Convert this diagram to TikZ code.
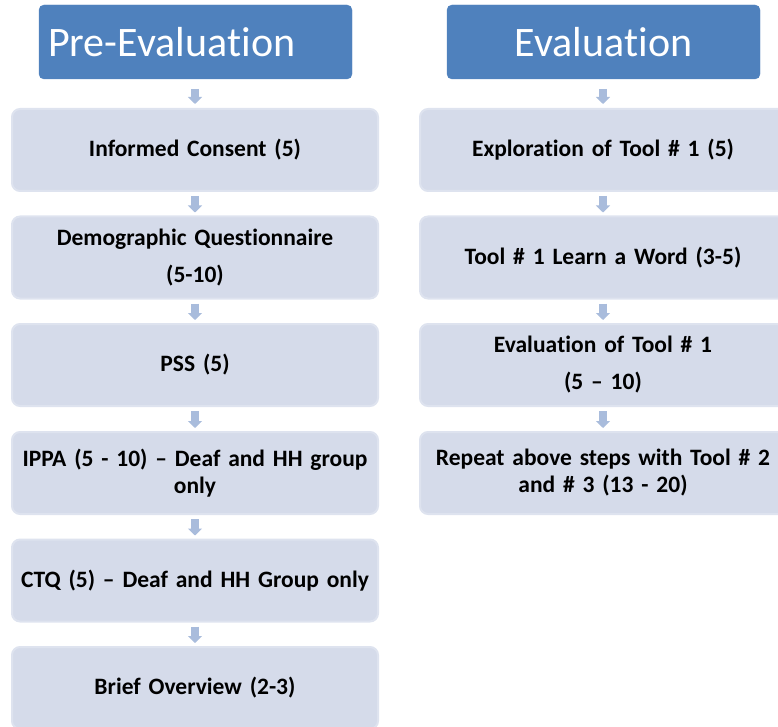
\documentclass[tikz,border=0pt]{standalone}
\usepackage{fontspec}
\setmainfont{Carlito}[Ligatures={NoCommon}, Contextuals={NoAlternate}]
\usetikzlibrary{arrows.meta}
\definecolor{hdr}{HTML}{4F81BD}
\definecolor{boxfill}{HTML}{D5DBEA}
\definecolor{boxline}{HTML}{DEE3EF}
\definecolor{arr}{HTML}{A9BCDC}
\newcommand\myboxfont{\fontsize{23.5}{27}\selectfont\bfseries\spaceskip 0.2em plus 0.05em\relax}
\begin{document}
\begin{tikzpicture}[x=1pt,y=-1pt,
  header/.style={fill=hdr, draw=hdr, rounded corners=5pt, minimum width=313pt, minimum height=74pt,
    text=white, font=\fontsize{42}{48}\selectfont, outer sep=0pt},
  stepbox/.style={fill=boxfill, draw=boxline, line width=2pt, rounded corners=8pt,
    minimum width=366pt, minimum height=82pt, text width=356pt, align=center,
    font=\myboxfont, outer sep=0pt},
  flow/.style={draw=arr, line width=8pt, -{Triangle[width=14pt,length=7pt]}},
]
\clip (0,0) rectangle (778,727);
\useasboundingbox (0,0) rectangle (778,727);

% headers
\node[header, text width=295pt, align=left, inner sep=9pt] (h1) at (195.5,42) {Pre-Evalua\kern0pt tion};
\node[header, align=center] (h2) at (603.5,42) {Evalua\kern0pt tion};

% left column
\node[stepbox] (l1) at (195,150) {Informed Consent (5)};
\node[stepbox] (l2) at (195,257.5) {Demographic Questionnaire\\[10pt](5-10)};
\node[stepbox] (l3) at (195,365) {PSS (5)};
\node[stepbox] (l4) at (195,473) {IPPA (5 - 10) – Deaf and HH group\\only};
\node[stepbox] (l5) at (195,580.5) {CTQ (5) – Deaf and HH Group only};
\node[stepbox] (l6) at (195,688) {Brief Overview (2-3)};

% right column
\node[stepbox] (r1) at (603,150) {Explora\kern0pt tion of Tool \# 1 (5)};
\node[stepbox] (r2) at (603,257.5) {Tool \# 1 Learn a Word (3-5)};
\node[stepbox] (r3) at (603,365) {Evalua\kern0pt tion of Tool \# 1\\[10pt](5 – 10)};
\node[stepbox] (r4) at (603,473) {Repeat above steps with Tool \# 2\\and \# 3 (13 - 20)};

% arrows
\draw[flow, shorten <=10pt, shorten >=5pt] ([xshift=-0.5pt]h1.south) -- (l1.north);
\draw[flow, shorten <=5pt, shorten >=4pt] (l1.south) -- (l2.north);
\draw[flow, shorten <=5pt, shorten >=4pt] (l2.south) -- (l3.north);
\draw[flow, shorten <=5pt, shorten >=4pt] (l3.south) -- (l4.north);
\draw[flow, shorten <=5pt, shorten >=4pt] (l4.south) -- (l5.north);
\draw[flow, shorten <=5pt, shorten >=4pt] (l5.south) -- (l6.north);

\draw[flow, shorten <=10pt, shorten >=5pt] ([xshift=-0.5pt]h2.south) -- (r1.north);
\draw[flow, shorten <=5pt, shorten >=4pt] (r1.south) -- (r2.north);
\draw[flow, shorten <=5pt, shorten >=4pt] (r2.south) -- (r3.north);
\draw[flow, shorten <=5pt, shorten >=4pt] (r3.south) -- (r4.north);
\end{tikzpicture}
\end{document}
